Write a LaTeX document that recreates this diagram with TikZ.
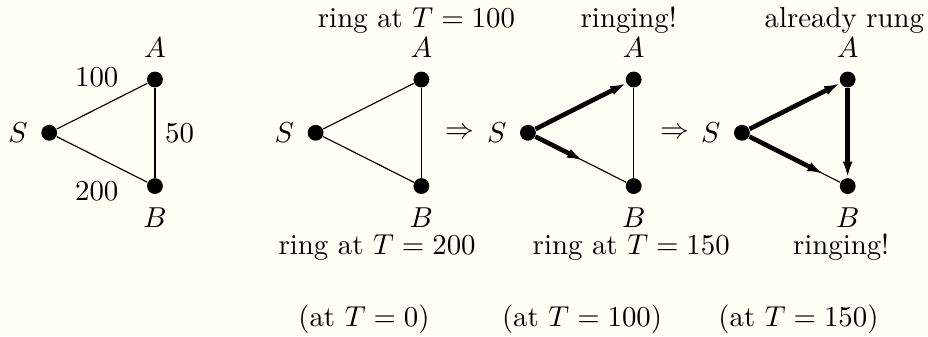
\documentclass[tikz,border=0pt]{standalone}
\usepackage{amsmath}
\usepackage{amssymb}
\usepackage{tikz}
\usetikzlibrary{
    arrows.meta,
    calc
}
\definecolor{paper}{RGB}{255,255,246}

\begin{document}
\begin{tikzpicture}[
    vertex/.style={circle,fill,inner sep=0pt,minimum size=5.5pt},
    call/.style={line width=1.6pt,-{Latex[length=5.5pt,width=3.4pt]}},
    label distance=1pt
]
\useasboundingbox[fill=paper] (0,0) rectangle (11.32,4.1);

% the weighted graph
\node[vertex,label=left:$S$] (S1) at (0.6,2.48) {};
\node[vertex,label=above:$A$] (A1) at (1.89,3.13) {};
\node[vertex,label=below:$B$] (B1) at (1.89,1.83) {};
\draw (S1) -- (A1);
\draw (S1) -- (B1);
\draw (A1) -- node[right] (w50) {50} (B1);
\node (w100) at (1.18,3.16) {100};
\node (w200) at (1.18,1.77) {200};

% at T=0
\node[vertex,label=left:$S$] (S2) at (3.85,2.48) {};
\node[vertex,label=above:$A$] (A2) at (5.14,3.13) {};
\node[vertex,label=below:$B$] (B2) at (5.14,1.83) {};
\draw (S2) -- (A2);
\draw (S2) -- (B2);
\draw (A2) -- (B2);
\node (t2) at (5.08,3.85) {ring at $T=100$};
\node (b2) at (4.60,1.08) {ring at $T=200$};
\node (c2) at (4.44,0.20) {(at $T=0$)};
\node (r2) at (5.61,2.48) {$\Rightarrow$};

% at T=100
\node[vertex,label=left:$S$] (S3) at (6.44,2.48) {};
\node[vertex,label=above:$A$] (A3) at (7.73,3.13) {};
\node[vertex,label=below:$B$] (B3) at (7.73,1.83) {};
\draw (S3) -- (B3);
\draw (A3) -- (B3);
\coordinate (h3) at ($(S3)!0.52!(B3)$);
\draw[call] (S3) -- (A3);
\draw[call] (S3) -- (h3);
\node (t3) at (7.67,3.85) {ringing!};
\node (b3) at (7.70,1.08) {ring at $T=150$};
\node (c3) at (7.10,0.20) {(at $T=100$)};
\node (r3) at (8.23,2.48) {$\Rightarrow$};

% at T=150
\node[vertex,label=left:$S$] (S4) at (9.05,2.48) {};
\node[vertex,label=above:$A$] (A4) at (10.34,3.13) {};
\node[vertex,label=below:$B$] (B4) at (10.34,1.83) {};
\draw (S4) -- (B4);
\coordinate (h4) at ($(S4)!0.77!(B4)$);
\draw[call] (S4) -- (A4);
\draw[call] (A4) -- (B4);
\draw[call] (S4) -- (h4);
\node (t4) at (10.30,3.85) {already rung};
\node (b4) at (10.26,1.08) {ringing!};
\node (c4) at (9.74,0.20) {(at $T=150$)};
\end{tikzpicture}
\end{document}
